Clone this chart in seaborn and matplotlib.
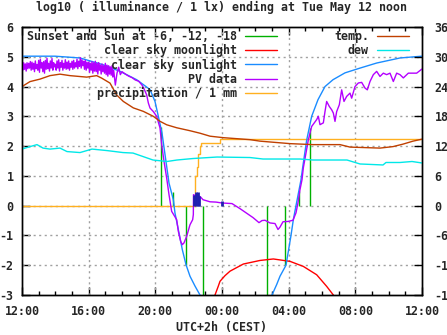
import numpy as np
import pandas as pd
import matplotlib
matplotlib.use("Agg")
import matplotlib.pyplot as plt
import seaborn as sns
from matplotlib.lines import Line2D
from matplotlib.ticker import MultipleLocator, FixedLocator

sns.set_theme(style="white")
plt.rcParams['font.family'] = ['DejaVu Sans Mono', 'DejaVu Sans']
plt.rcParams['font.weight'] = 'bold'
plt.rcParams['font.size'] = 8.4
plt.rcParams['axes.unicode_minus'] = False

# ---------------- data (hours since 12:00) ----------------
title = "log10 ( illuminance / 1 lx) ending at Tue May 12 noon"
x_tick_hours = [0, 4, 8, 12, 16, 20, 24]
x_tick_labels = ["12:00", "16:00", "20:00", "00:00", "04:00", "08:00", "12:00"]
y_ticks = [-3, -2, -1, 0, 1, 2, 3, 4, 5, 6]
y2_ticks = [-18, -12, -6, 0, 6, 12, 18, 24, 30, 36]

# sunset / sun at -6, -12, -18 (impulses)
sun_event_hours = [8.36, 9.04, 9.86, 10.88, 14.72, 15.80, 16.62, 17.26]
sun_event_log = [2.65, 0.45, -2.0, -3.6, -3.6, -2.0, 0.5, 2.62]

# clear sky moonlight
moon_hours = [11.40, 11.58, 11.78, 11.88, 12.18, 12.48, 13.28, 14.28, 15.08, 16.08, 16.88, 17.68, 18.28, 18.68, 18.85]
moon_log = [-3.5, -3.0, -2.7, -2.54, -2.35, -2.2, -1.96, -1.84, -1.79, -1.87, -2.04, -2.32, -2.71, -3.0, -3.3]

# clear sky sunlight
sun_hours = [0.0, 1.98, 3.48, 4.88, 5.88, 6.88, 7.68, 7.98, 8.18, 8.40, 8.54, 8.68, 8.82, 9.08, 9.18,
             9.44, 9.62, 9.84, 10.08, 10.38, 10.68, 10.95,
             14.75, 15.00, 15.28, 15.48, 15.84, 16.14, 16.28, 16.44, 16.74, 16.84, 17.08, 17.38, 17.76,
             18.18, 18.66, 19.38, 20.28, 21.28, 22.68, 24.0]
sun_log = [5.02, 5.02, 4.96, 4.73, 4.51, 4.23, 3.90, 3.50, 3.00, 2.44, 1.88, 1.32, 0.76, 0.20, -0.25,
           -0.97, -1.48, -1.98, -2.37, -2.70, -3.00, -3.40,
           -3.40, -3.00, -2.65, -2.37, -2.00, -1.00, -0.47, 0.00, 0.87, 1.28, 2.20, 3.00, 3.56,
           4.00, 4.23, 4.46, 4.62, 4.79, 4.96, 5.02]

# PV data
pv_hours = [0.0, 0.05, 0.1, 0.15, 0.2, 0.25, 0.3, 0.35, 0.4, 0.45, 0.5, 0.55, 0.6, 0.65, 0.7, 0.75, 0.8, 0.85, 0.9, 0.95,
            1.0, 1.05, 1.1, 1.15, 1.2, 1.25, 1.3, 1.35, 1.4, 1.45, 1.5, 1.55, 1.6, 1.65, 1.7, 1.75, 1.8, 1.85, 1.9, 1.95,
            2.0, 2.05, 2.1, 2.15, 2.2, 2.25, 2.3, 2.35, 2.4, 2.45, 2.5, 2.55, 2.6, 2.65, 2.7, 2.75, 2.8, 2.85, 2.9, 2.95,
            3.0, 3.05, 3.1, 3.15, 3.2, 3.25, 3.3, 3.35, 3.4, 3.45, 3.5, 3.55, 3.6, 3.65, 3.7, 3.75, 3.8, 3.85, 3.9, 3.95,
            4.0, 4.05, 4.1, 4.15, 4.2, 4.25, 4.3, 4.35, 4.4, 4.45, 4.5, 4.55, 4.6, 4.65, 4.7, 4.75, 4.8, 4.85, 4.9, 4.95,
            5.0, 5.05, 5.1, 5.15, 5.2, 5.25, 5.3, 5.35, 5.4, 5.45, 5.5, 5.6, 5.7, 5.8, 5.9,
            6.0, 6.2, 6.4, 6.6, 6.8, 7.0, 7.2, 7.3, 7.48, 7.58, 7.68, 7.88, 8.08,
            8.28, 8.38, 8.52, 8.68, 8.82, 8.98, 9.28, 9.38, 9.52, 9.62, 9.72, 9.88,
            10.08, 10.24, 10.28, 10.29, 10.40, 10.50, 10.60, 10.70, 10.86, 11.28, 11.64,
            12.00, 12.60, 13.08, 13.44, 13.86, 14.22, 14.40, 14.58, 14.88, 15.18, 15.36,
            15.48, 15.66, 15.96, 16.26, 16.44, 16.56, 16.68, 16.80, 16.88, 17.18, 17.38,
            17.68, 17.78, 17.88, 18.08, 18.18, 18.28, 18.44, 18.58, 18.68, 18.78, 18.88,
            19.04, 19.18, 19.32, 19.48, 19.68, 19.78, 19.98, 20.18, 20.38, 20.58, 20.72,
            20.88, 21.08, 21.28, 21.48, 21.68, 21.88, 22.08, 22.28, 22.48, 22.68, 22.88,
            23.18, 23.68, 24.0]
pv_log = [4.70, 4.55, 4.80, 4.58, 4.76, 4.52, 4.80, 4.60, 4.78, 4.62, 4.84, 4.55, 4.82, 4.58, 4.78, 4.50, 4.86, 4.60, 4.74, 4.55,
          4.88, 4.48, 4.92, 4.62, 4.80, 4.50, 4.84, 4.45, 4.88, 4.58, 4.95, 4.60, 4.78, 4.52, 4.86, 4.62, 4.94, 4.55, 4.80, 4.66,
          4.75, 4.55, 4.86, 4.62, 4.90, 4.52, 4.80, 4.65, 4.88, 4.55, 4.78, 4.62, 4.90, 4.58, 4.82, 4.60, 4.86, 4.55, 4.78, 4.65,
          4.85, 4.58, 4.88, 4.62, 4.80, 4.66, 4.92, 4.60, 4.85, 4.68, 4.97, 4.62, 4.90, 4.70, 4.85, 4.58, 4.88, 4.55, 4.82, 4.62,
          4.82, 4.48, 4.78, 4.55, 4.84, 4.45, 4.80, 4.52, 4.85, 4.50, 4.78, 4.42, 4.80, 4.55, 4.72, 4.42, 4.76, 4.50, 4.70, 4.45,
          4.78, 4.40, 4.72, 4.35, 4.70, 4.42, 4.66, 4.38, 4.70, 4.32, 4.55, 4.05, 4.45, 4.65, 4.40,
          4.50, 4.42, 4.35, 4.30, 4.22, 4.18, 4.05, 3.95, 3.72, 3.45, 3.28, 3.16, 3.00,
          2.61, 2.05, 1.49, 0.93, 0.37, -0.19, -0.47, -0.86, -1.20, -1.31, -1.25, -1.03,
          -0.64, -0.47, -0.30, 0.37, 0.33, 0.38, 0.32, 0.30, 0.20, 0.13, 0.12,
          0.09, 0.07, -0.10, -0.24, -0.40, -0.57, -0.50, -0.49, -0.58, -0.60, -0.80,
          -0.72, -0.54, -0.53, -0.49, -0.24, 0.10, 0.54, 0.87, 1.27, 2.21, 2.66,
          2.89, 3.00, 2.72, 2.78, 3.16, 3.50, 3.33, 3.22, 3.11, 2.83, 3.16,
          3.39, 3.89, 3.50, 3.67, 3.78, 3.61, 4.00, 4.12, 4.14, 3.95, 3.89,
          4.17, 4.40, 4.51, 4.34, 4.45, 4.40, 4.45, 4.17, 4.45, 4.40, 4.29,
          4.45, 4.45, 4.59]

# precipitation (cumulative, mm)
precip_hours = [0.0, 10.34, 10.36, 10.40, 10.48, 10.56, 10.66, 10.72, 11.88, 24.0]
precip_mm = [0.0, 0.0, 0.5, 1.0, 1.3, 1.75, 2.0, 2.1, 2.24, 2.24]

# rain impulses (dark blue, unlabeled)
rain_hours = [10.34, 10.44, 10.54, 10.64, 11.98]
rain_vals = [0.37, 0.45, 0.45, 0.34, 0.15]

# temperature and dew point (deg C, right axis)
temp_hours = [0.0, 0.48, 1.08, 1.68, 2.28, 2.88, 3.88, 4.48, 4.78, 5.28, 5.68, 6.08, 6.68, 7.28,
              7.88, 8.28, 8.68, 9.28, 10.08, 10.68, 11.28, 12.08, 12.88, 13.68, 14.28, 16.08,
              17.46, 19.08, 19.68, 21.48, 22.26, 22.86, 23.46, 24.0]
temp_c = [24.0, 25.0, 25.5, 26.2, 26.5, 26.2, 25.9, 26.2, 25.7, 24.7, 22.3, 21.0, 19.7, 19.0,
          18.0, 17.0, 16.3, 15.7, 15.1, 14.6, 14.0, 13.7, 13.5, 13.3, 13.0, 12.5,
          12.3, 12.3, 11.8, 11.6, 11.9, 12.4, 13.0, 13.4]
dew_hours = [0.0, 0.48, 0.9, 1.26, 1.68, 2.28, 2.7, 3.48, 4.2, 5.1, 6.06, 6.66, 7.26, 7.86,
             8.7, 9.3, 10.26, 11.7, 13.68, 14.46, 16.68, 17.46, 19.5, 20.28, 21.66, 21.84,
             22.68, 23.4, 24.0]
dew_c = [11.4, 11.9, 12.3, 11.6, 11.4, 11.6, 10.9, 10.7, 11.4, 11.1, 10.7, 10.6, 9.9, 9.2,
         8.9, 9.2, 9.5, 9.8, 9.7, 9.4, 9.4, 9.2, 9.2, 8.4, 8.2, 8.7, 8.7, 8.9, 8.6]

# ---------------- colours ----------------
c_green = "#00b000"
c_red = "#ff0000"
c_blue = "#1a8cff"
c_purple = "#b400ff"
c_orange = "#ffb020"
c_navy = "#2020b0"
c_temp = "#c04000"
c_dew = "#00e8e8"

W, H = 447, 335
fig = plt.figure(figsize=(W / 100, H / 100), dpi=100)
ax = fig.add_axes([22 / W, 40 / H, 400 / W, 268 / H])
ax2 = ax.twinx()

lw = 1.0
ax.vlines(sun_event_hours, 0, sun_event_log, color=c_green, lw=lw, zorder=2)
sns.lineplot(x=moon_hours, y=moon_log, ax=ax, color=c_red, lw=lw, estimator=None, sort=False, zorder=2)
sns.lineplot(x=sun_hours, y=sun_log, ax=ax, color=c_blue, lw=lw, estimator=None, sort=False, zorder=3)
sns.lineplot(x=pv_hours, y=pv_log, ax=ax, color=c_purple, lw=lw, estimator=None, sort=False, zorder=4)
sns.lineplot(x=precip_hours, y=precip_mm, ax=ax, color=c_orange, lw=lw, estimator=None, sort=False,
             drawstyle="steps-post", zorder=2.5)
ax.vlines(rain_hours, 0, rain_vals, color=c_navy, lw=2.0, zorder=4.5)

sns.lineplot(x=temp_hours, y=temp_c, ax=ax2, color=c_temp, lw=lw, estimator=None, sort=False)
sns.lineplot(x=dew_hours, y=dew_c, ax=ax2, color=c_dew, lw=lw, estimator=None, sort=False)

ax.set_xlim(0, 24)
ax.set_ylim(-3, 6)
ax2.set_ylim(-18, 36)
ax.set_xlabel("")
ax.set_ylabel("")
ax2.set_ylabel("")

ax.xaxis.set_major_locator(FixedLocator(x_tick_hours))
ax.set_xticklabels(x_tick_labels)
ax.xaxis.set_minor_locator(MultipleLocator(1))
ax.yaxis.set_major_locator(FixedLocator(y_ticks))
ax.set_yticklabels([str(v) for v in y_ticks])
ax2.yaxis.set_major_locator(FixedLocator(y2_ticks))
ax2.set_yticklabels([str(v) for v in y2_ticks])

tick_font = dict(labelsize=8.4)
ax.tick_params(axis='x', which='major', direction='in', length=6, width=1, color='black',
               top=True, bottom=True, pad=7, **tick_font)
ax.tick_params(axis='x', which='minor', direction='in', length=3, width=1, color='black',
               top=True, bottom=True)
ax.tick_params(axis='y', which='major', direction='in', length=6, width=1, color='black',
               left=True, right=False, pad=6, **tick_font)
ax2.tick_params(axis='y', which='major', direction='in', length=6, width=1, color='black',
                right=True, pad=9, **tick_font)
for lab in ax.get_xticklabels() + ax.get_yticklabels() + ax2.get_yticklabels():
    lab.set_fontweight('bold')

for a in (ax, ax2):
    for s in a.spines.values():
        s.set_color('black')
        s.set_linewidth(1.0)

# grid (dotted gray) at inner major ticks
grid_kw = dict(color="#a0a0a0", lw=1.0, linestyle=(0, (1.5, 2.5)), zorder=1)
for h in x_tick_hours[1:-1]:
    ax.axvline(h, **grid_kw)
for v in y_ticks[1:-1]:
    ax.axhline(v, **grid_kw)

# legends (text right-aligned, sample to the right, like gnuplot)
fs_px = 8.4 * 100 / 72
h_left = [Line2D([], [], color=c_green, lw=lw), Line2D([], [], color=c_red, lw=lw),
          Line2D([], [], color=c_blue, lw=lw), Line2D([], [], color=c_purple, lw=lw),
          Line2D([], [], color=c_orange, lw=lw)]
l_left = ["Sunset and Sun at -6, -12, -18", "clear sky moonlight", "clear sky sunlight",
          "PV data", "precipitation / 1 mm"]
leg_kw = dict(frameon=False, markerfirst=False, borderpad=0, borderaxespad=0,
              handlelength=32 / fs_px, handletextpad=8 / fs_px, labelspacing=0.1,
              prop=dict(family='DejaVu Sans Mono', weight='bold', size=8.4),
              loc='upper right', bbox_transform=fig.transFigure)
leg1 = ax2.legend(h_left, l_left, bbox_to_anchor=(277 / W, 1 - 30 / H), **leg_kw)
ax2.add_artist(leg1)
h_right = [Line2D([], [], color=c_temp, lw=lw), Line2D([], [], color=c_dew, lw=lw)]
ax2.legend(h_right, ["temp.", "dew"], bbox_to_anchor=(409 / W, 1 - 30 / H), **leg_kw)

fig.text(222 / W, 1 - 7.5 / H, title, ha='center', va='center', fontsize=8.4,
         fontweight='bold', family='DejaVu Sans Mono')
fig.text(222 / W, 1 - 327 / H, "UTC+2h (CEST)", ha='center', va='center', fontsize=8.4,
         fontweight='bold', family='DejaVu Sans Mono')

fig.savefig("out.png", dpi=100)
